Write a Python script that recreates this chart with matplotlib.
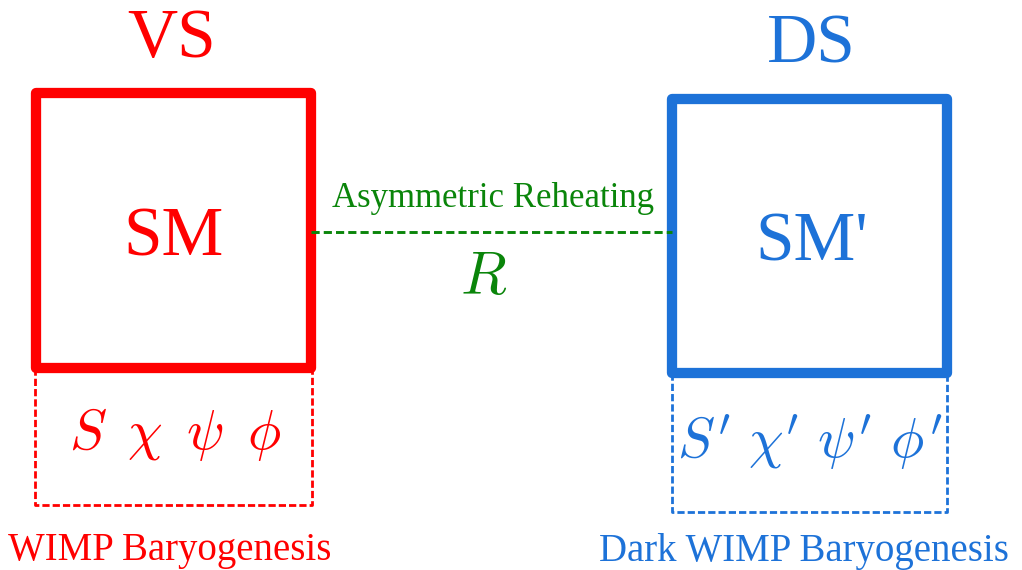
import matplotlib
matplotlib.use("Agg")
from matplotlib import pyplot as plt
from matplotlib.patches import Rectangle

# sectors: visible sector (VS) and dark sector (DS)
sector_names = ["VS", "DS"]
box_labels = ["SM", "SM'"]
particle_labels = [r"$S\enspace\chi\enspace\psi\enspace\phi$",
                   r"$S'\ \chi'\ \psi'\ \phi'$"]
mechanism_labels = ["WIMP Baryogenesis", "Dark WIMP Baryogenesis"]
link_label = "Asymmetric Reheating"
link_symbol = r"$R$"

# box extents in pixel space: (x0, x1, top, bottom)
main_boxes = [(36, 311, 93, 368), (672, 947, 98.5, 373)]
sub_boxes = [(35, 312, 368, 505), (672, 947, 373, 512)]
colors = ["#ff0000", "#1d72d8"]
green = "#0a850a"

plt.rcParams["font.family"] = ["Liberation Serif", "DejaVu Serif"]
plt.rcParams["mathtext.fontset"] = "cm"

fig = plt.figure(figsize=(10.22, 5.70), dpi=100)
ax = fig.add_axes([0, 0, 1, 1])
ax.set_xlim(0, 1022)
ax.set_ylim(570, 0)
ax.axis("off")

for i in range(2):
    x0, x1, y0, y1 = sub_boxes[i]
    ax.plot([x0, x0, x1, x1], [y0, y1, y1, y0], color=colors[i], lw=2.0,
            linestyle=(0, (2.6, 1.1)))
    bx0, bx1, by0, by1 = main_boxes[i]
    ax.add_patch(Rectangle((bx0, by0), bx1 - bx0, by1 - by0, fill=False,
                           ec=colors[i], lw=7.4, joinstyle="round"))

    xc = (bx0 + bx1) / 2
    ax.text(xc - 2 + i * 4, by0 - 36, sector_names[i], color=colors[i],
            fontsize=50, ha="center", va="baseline")
    ax.text(xc + i * 2, by0 + 162, box_labels[i], color=colors[i],
            fontsize=50, ha="center", va="baseline")
    ax.text(xc + 2 - i * 2, sub_boxes[i][2] + 81 + i * 4, particle_labels[i],
            color=colors[i], fontsize=40, ha="center", va="baseline")
    ax.text(xc - 4 - i * 2, 560 + i, mechanism_labels[i], color=colors[i],
            fontsize=28, ha="center", va="baseline")

# link between the sectors
ax.plot([main_boxes[0][1], main_boxes[1][0]], [232, 232], color=green, lw=2.1,
        linestyle=(0, (2.8, 1.4)))
ax.text(493, 207, link_label, color=green, fontsize=25, ha="center",
        va="baseline")
ax.text(484, 294, link_symbol, color=green, fontsize=43, ha="center",
        va="baseline")

plt.savefig("out.png", dpi=100)
